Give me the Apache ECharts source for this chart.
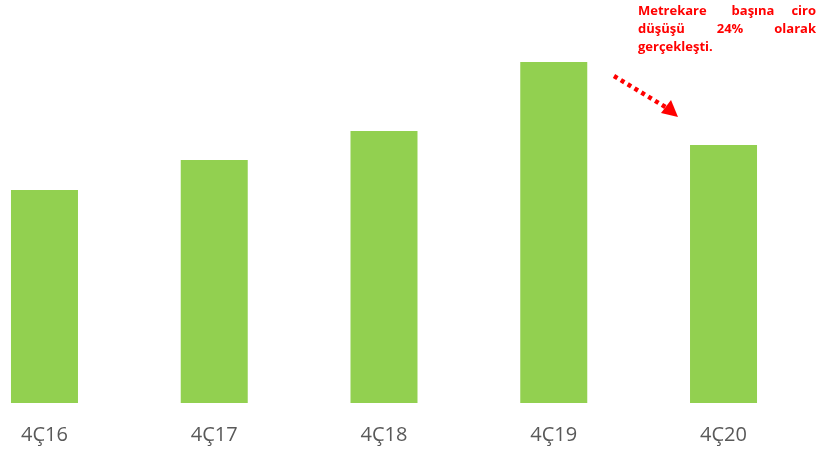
<!DOCTYPE html>
<html><head><meta charset="utf-8">
<script src="https://cdn.jsdelivr.net/npm/echarts@6/dist/echarts.min.js"></script>
<style>html,body{margin:0;padding:0;background:#fff}#c{width:821px;height:452px}</style>
</head><body><div id="c"></div>
<script>
const categories = ['4Ç16', '4Ç17', '4Ç18', '4Ç19', '4Ç20'];
const values = [213, 243, 272, 341, 258];
const noteLines = [['Metrekare', 'başına', 'ciro'], ['düşüşü', '24%', 'olarak'], ['gerçekleşti.']];

const chart = echarts.init(document.getElementById('c'));
const noteFont = 'bold 13px "Open Sans", sans-serif';
const graphics = [];
noteLines.forEach((words, li) => {
  const y = 11.5 + li * 18;
  graphics.push({type: 'text', x: 638, y: y, style: {text: words[0], font: noteFont, fill: '#ff0000', align: 'left', verticalAlign: 'middle'}});
  if (words.length > 1) {
    graphics.push({type: 'text', x: li === 0 ? 753 : 730, y: y, style: {text: words[1], font: noteFont, fill: '#ff0000', align: 'center', verticalAlign: 'middle'}});
    graphics.push({type: 'text', x: 816, y: y, style: {text: words[2], font: noteFont, fill: '#ff0000', align: 'right', verticalAlign: 'middle'}});
  }
});
graphics.push({type: 'line', shape: {x1: 614, y1: 76, x2: 667, y2: 108}, style: {stroke: '#ff0000', lineWidth: 4.5, lineDash: [4, 4]}});
graphics.push({type: 'polygon', shape: {points: [[678, 117], [661, 113], [671, 100]]}, style: {fill: '#ff0000'}});

const pts = values.map((v, i) => [i, v]);
chart.setOption({
  animation: false,
  grid: {left: 0, right: 12.6, top: 0, bottom: 49},
  xAxis: {
    type: 'value', min: -0.262, max: 4.5,
    splitLine: {show: false},
    axisLine: {show: false}, axisTick: {show: false},
    axisLabel: {
      customValues: [0, 1, 2, 3, 4],
      formatter: v => categories[Math.round(v)] || '',
      color: '#595959', fontSize: 20, fontFamily: '"Open Sans", sans-serif', margin: 22
    }
  },
  yAxis: {type: 'value', min: 0, max: 403, show: false, splitLine: {show: false}},
  series: [{
    type: 'bar', data: pts, barWidth: 67,
    itemStyle: {color: '#92d050'}
  }],
  graphic: graphics
});
</script></body></html>
